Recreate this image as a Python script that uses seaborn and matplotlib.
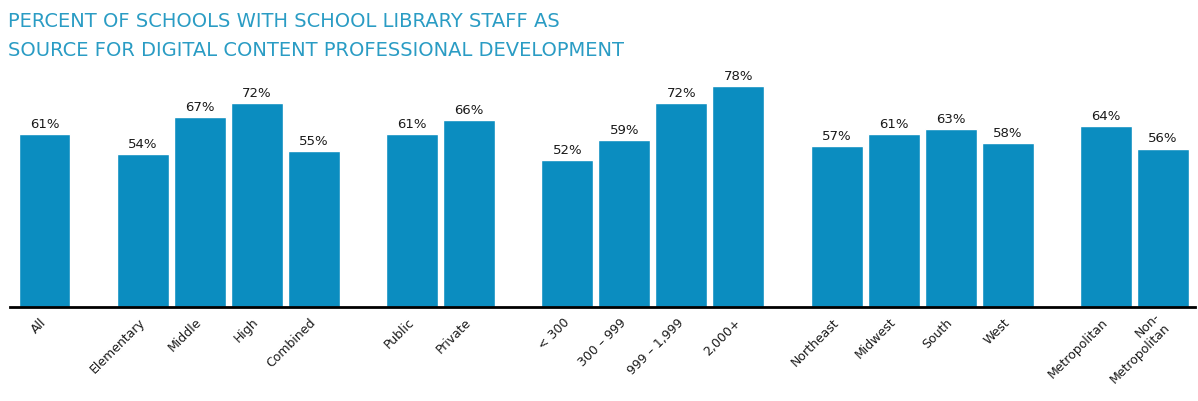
import matplotlib
matplotlib.use("Agg")
import matplotlib.pyplot as plt
import seaborn as sns
import pandas as pd

sns.set_style("white")
plt.rcParams['font.family'] = ['DejaVu Sans']

# data
labels = ['All',
          'Elementary', 'Middle', 'High', 'Combined',
          'Public', 'Private',
          '< 300', '300 – 999', '999 – 1,999', '2,000+',
          'Northeast', 'Midwest', 'South', 'West',
          'Metropolitan', 'Non-\nMetropolitan']
groups = [0, 1, 1, 1, 1, 2, 2, 3, 3, 3, 3, 4, 4, 4, 4, 5, 5]
values = [61, 54, 67, 72, 55, 61, 66, 52, 59, 72, 78, 57, 61, 63, 58, 64, 56]

BAR = '#0b8dc0'
TITLE = '#2a9cc4'
GAP = 0.72  # extra space between groups

df = pd.DataFrame({'label': labels, 'group': groups, 'value': values})
df['pos'] = df.index + GAP * df['group']

fig = plt.figure(figsize=(11.98, 4.02), dpi=100)
ax = fig.add_axes([10 / 1198, 94 / 402, 1185 / 1198, 248 / 402])

sns.barplot(data=df, x='pos', y='value', native_scale=True, width=0.91,
            color=BAR, saturation=1, ax=ax)

ax.set_xlim(-0.605, df['pos'].iloc[-1] + 0.56)
ax.set_ylim(0, 248 / 2.83)

ax.bar_label(ax.containers[0], labels=[f'{v}%' for v in values],
             padding=3, fontsize=9.5, color='#1a1a1a')

ax.set_xticks(df['pos'])
ax.set_xticklabels(labels, rotation=45, ha='right', va='center',
                   rotation_mode='anchor', fontsize=9, color='#1a1a1a')
ax.tick_params(axis='x', length=0, pad=9)
ax.set_yticks([])
ax.set_xlabel('')
ax.set_ylabel('')

sns.despine(ax=ax, left=True, top=True, right=True)
ax.spines['bottom'].set_color('black')
ax.spines['bottom'].set_linewidth(2)

fig.text(8 / 1198, 1 - 27 / 402,
         'PERCENT OF SCHOOLS WITH SCHOOL LIBRARY STAFF AS',
         color=TITLE, fontsize=14)
fig.text(8 / 1198, 1 - 56 / 402,
         'SOURCE FOR DIGITAL CONTENT PROFESSIONAL DEVELOPMENT',
         color=TITLE, fontsize=14)

fig.savefig('out.png', dpi=100)
